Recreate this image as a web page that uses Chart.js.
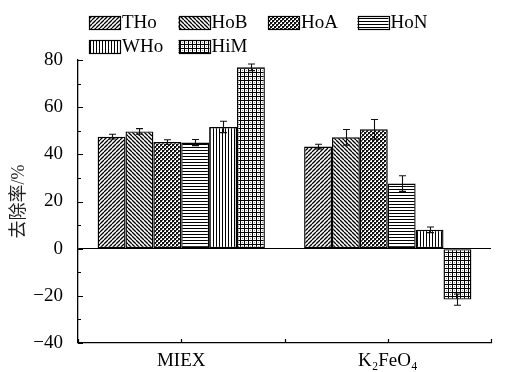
<!DOCTYPE html>
<html><head><meta charset="utf-8">
<script src="https://cdn.jsdelivr.net/npm/chart.js@4.4.0/dist/chart.umd.min.js"></script>
<style>html,body{margin:0;padding:0;background:#fff}#wrap{width:511px;height:372px;position:relative}</style>
</head><body><div id="wrap"><canvas id="c" width="511" height="372"></canvas></div>
<script>
const categories = ['MIEX', 'K\u2082FeO\u2084'];
const seriesNames = ['THo', 'HoB', 'HoA', 'HoN', 'WHo', 'HiM'];
const THo = [47.5, 43.3];
const HoB = [49.7, 47.2];
const HoA = [45.2, 50.6];
const HoN = [45.0, 27.6];
const WHo = [51.6, 8.0];
const HiM = [76.9, -21.6];
const THoErr = [1.0, 1.0];
const HoBErr = [1.2, 3.3];
const HoAErr = [1.0, 4.2];
const HoNErr = [1.3, 3.3];
const WHoErr = [2.4, 1.2];
const HiMErr = [1.4, 2.4];
const yTicks = [-40, -20, 0, 20, 40, 60, 80];
const yTitle = '去除率/%';

const values = [THo, HoB, HoA, HoN, WHo, HiM];
const errors = [THoErr, HoBErr, HoAErr, HoNErr, WHoErr, HiMErr];

function makePattern(kind) {
  const c = document.createElement('canvas');
  const ctx = c.getContext('2d');
  let s = 4;
  if (kind === 'hlines' || kind === 'vlines') s = 3;
  c.width = s; c.height = s;
  ctx.fillStyle = '#fff'; ctx.fillRect(0, 0, s, s);
  ctx.fillStyle = '#000'; ctx.strokeStyle = '#000';
  if (kind === 'fwd') {
    ctx.lineWidth = 1.3;
    ctx.beginPath();
    for (let k = -1; k <= 1; k++) { ctx.moveTo(k * s, s); ctx.lineTo(k * s + s, 0); }
    ctx.stroke();
  } else if (kind === 'back') {
    ctx.lineWidth = 1.3;
    ctx.beginPath();
    for (let k = -1; k <= 1; k++) { ctx.moveTo(k * s, 0); ctx.lineTo(k * s + s, s); }
    ctx.stroke();
  } else if (kind === 'checker') {
    ctx.fillStyle = '#111';
    ctx.fillRect(0, 0, 2, 2); ctx.fillRect(2, 2, 2, 2);
    ctx.fillStyle = '#666';
    ctx.fillRect(2, 0, 1, 1); ctx.fillRect(0, 2, 1, 1);
  } else if (kind === 'hlines') {
    ctx.fillRect(0, 0, s, 1);
  } else if (kind === 'vlines') {
    ctx.fillRect(0, 0, 1, s);
  } else if (kind === 'grid') {
    ctx.fillRect(0, 0, s, 1);
    ctx.fillRect(0, 0, 1, s);
    ctx.fillStyle = '#999';
    ctx.fillRect(2, 2, 1, 1);
  }
  return ctx.createPattern(c, 'repeat');
}
const patternKinds = ['fwd', 'back', 'checker', 'hlines', 'vlines', 'grid'];
const patterns = patternKinds.map(makePattern);

const serif = "'Liberation Serif', 'Times New Roman', serif";

const datasets = seriesNames.map((n, i) => ({
  label: n,
  data: values[i],
  errs: errors[i],
  backgroundColor: patterns[i],
  borderColor: '#000',
  borderWidth: 1.4,
  borderSkipped: false,
  barPercentage: 1.0,
  categoryPercentage: 0.81
}));

const extras = {
  id: 'extras',
  afterDatasetsDraw(chart) {
    const ctx = chart.ctx;
    const ys = chart.scales.y;
    ctx.save();
    ctx.strokeStyle = '#111';
    ctx.lineWidth = 1.1;
    chart.data.datasets.forEach((ds, di) => {
      const meta = chart.getDatasetMeta(di);
      meta.data.forEach((bar, i) => {
        const v = ds.data[i], e = ds.errs[i];
        const x = Math.round(bar.x) + 0.5;
        const y1 = ys.getPixelForValue(v + e), y2 = ys.getPixelForValue(v - e);
        ctx.beginPath();
        ctx.moveTo(x, y1); ctx.lineTo(x, y2);
        ctx.moveTo(x - 3.5, y1); ctx.lineTo(x + 3.5, y1);
        ctx.moveTo(x - 3.5, y2); ctx.lineTo(x + 3.5, y2);
        ctx.stroke();
      });
    });
    ctx.restore();
  },
  afterDraw(chart) {
    const ctx = chart.ctx;
    const a = chart.chartArea;
    const ys = chart.scales.y;
    ctx.save();
    ctx.strokeStyle = '#000';
    ctx.lineWidth = 1.2;
    ctx.beginPath();
    for (let v = ys.min; v <= ys.max; v += 10) {
      const y = Math.round(ys.getPixelForValue(v)) + 0.5;
      const len = (v % 20 === 0) ? 5 : 3;
      ctx.moveTo(a.left, y); ctx.lineTo(a.left + len, y);
    }
    const n = categories.length;
    for (let k = 0; k <= 2 * n; k++) {
      const x = Math.round(a.left + k * (a.right - a.left) / (2 * n)) + 0.5;
      ctx.moveTo(x, a.bottom); ctx.lineTo(x, a.bottom - 4);
    }
    ctx.stroke();
    // legend
    const colX0 = 89, colW = 89.5, rowY0 = 16, rowH = 24, perRow = 4;
    ctx.font = '19px ' + serif;
    ctx.textBaseline = 'middle';
    seriesNames.forEach((nm, i) => {
      const cx = colX0 + (i % perRow) * colW;
      const cy = rowY0 + Math.floor(i / perRow) * rowH;
      ctx.fillStyle = patterns[i];
      ctx.fillRect(cx, cy, 31, 13);
      ctx.strokeStyle = '#000';
      ctx.lineWidth = 1.2;
      ctx.strokeRect(Math.round(cx) + 0.5, cy + 0.5, 31, 13);
      ctx.fillStyle = '#000';
      ctx.fillText(nm, cx + 33, cy + 7.5);
    });
    ctx.restore();
  }
};

new Chart(document.getElementById('c'), {
  type: 'bar',
  data: { labels: categories, datasets },
  options: {
    responsive: false,
    animation: false,
    layout: { padding: { left: 0, right: 20, top: 60, bottom: 0 } },
    plugins: { legend: { display: false }, tooltip: { enabled: false } },
    scales: {
      x: {
        grid: { display: false, drawTicks: false },
        border: { display: true, color: '#000', width: 1.3 },
        ticks: { color: '#000', font: { family: serif, size: 19 }, padding: 7 },
        afterFit(s) { s.height = 29; }
      },
      y: {
        min: -40, max: 80,
        grid: {
          drawTicks: false,
          color: (c) => (c.tick && c.tick.value === 0) ? '#000' : 'rgba(0,0,0,0)',
          lineWidth: 1.1
        },
        border: { display: true, color: '#000', width: 1.3 },
        ticks: {
          stepSize: 10,
          color: '#000',
          padding: 15,
          font: { family: serif, size: 19 },
          callback: (v) => yTicks.includes(v) ? String(v).replace('-', '\u2212') : ''
        },
        title: {
          display: true, text: yTitle, color: '#222',
          font: { family: "'Liberation Serif', 'Noto Sans CJK SC', serif", size: 18 },
          padding: { top: 8, bottom: 0 }
        },
        afterFit(s) { s.width = 78; }
      }
    }
  },
  plugins: [extras]
});
</script></body></html>
